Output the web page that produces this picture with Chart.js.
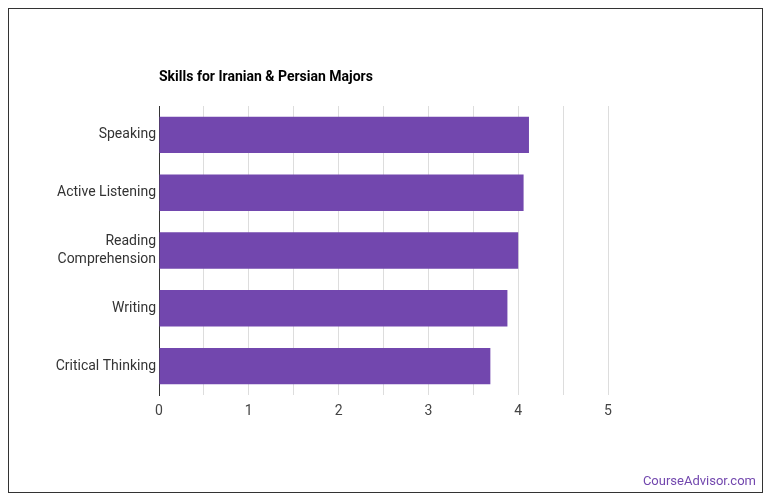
<!DOCTYPE html>
<html>
<head>
<script src="https://cdn.jsdelivr.net/npm/chart.js@4"></script>
<style>
body { margin: 0; background: #fff; font-family: Roboto, sans-serif; }
#frame { position: absolute; left: 8px; top: 8px; width: 753px; height: 483px; border: 1px solid #333; }
#title { position: absolute; left: 159px; top: 68px; font-size: 14px; font-weight: bold; color: #000; }
#mark { position: absolute; right: 14px; top: 473px; font-size: 13px; color: #7247ae; }
canvas { position: absolute; left: 0; top: 0; }
</style>
</head>
<body>
<div id="frame"></div>
<canvas id="skillsChart" width="770" height="503"></canvas>
<div id="title">Skills for Iranian &amp; Persian Majors</div>
<div id="mark">CourseAdvisor.com</div>
<script>
const skills = ['Speaking', 'Active Listening', ['Reading', 'Comprehension'], 'Writing', 'Critical Thinking'];
const scores = [4.12, 4.06, 4.00, 3.88, 3.69];

window.onload = function() {
    const ctx = document.getElementById('skillsChart').getContext('2d');
    new Chart(ctx, {
        type: 'bar',
        data: {
            labels: skills,
            datasets: [{
                label: 'Score',
                data: scores,
                backgroundColor: '#7247ae',
                barPercentage: 0.63,
                categoryPercentage: 1
            }]
        },
        options: {
            indexAxis: 'y',
            responsive: false,
            animation: false,
            layout: { padding: { left: 9, right: 162, top: 106, bottom: 78 } },
            plugins: { legend: { display: false }, tooltip: { enabled: false } },
            scales: {
                x: {
                    min: 0, max: 5,
                    ticks: {
                        stepSize: 0.5,
                        padding: 8,
                        color: '#444',
                        font: { family: 'Roboto', size: 14 },
                        callback: v => Number.isInteger(v) ? v : ''
                    },
                    grid: { color: '#ddd', drawTicks: false },
                    border: { display: false },
                    afterFit: s => { s.height = 30; }
                },
                y: {
                    ticks: { color: '#333', font: { family: 'Roboto', size: 14, lineHeight: 1.3 }, padding: 3 },
                    grid: { display: false, drawTicks: false },
                    border: { color: '#333' },
                    afterFit: s => { s.width = 150; }
                }
            }
        }
    });
};
</script>
</body>
</html>
